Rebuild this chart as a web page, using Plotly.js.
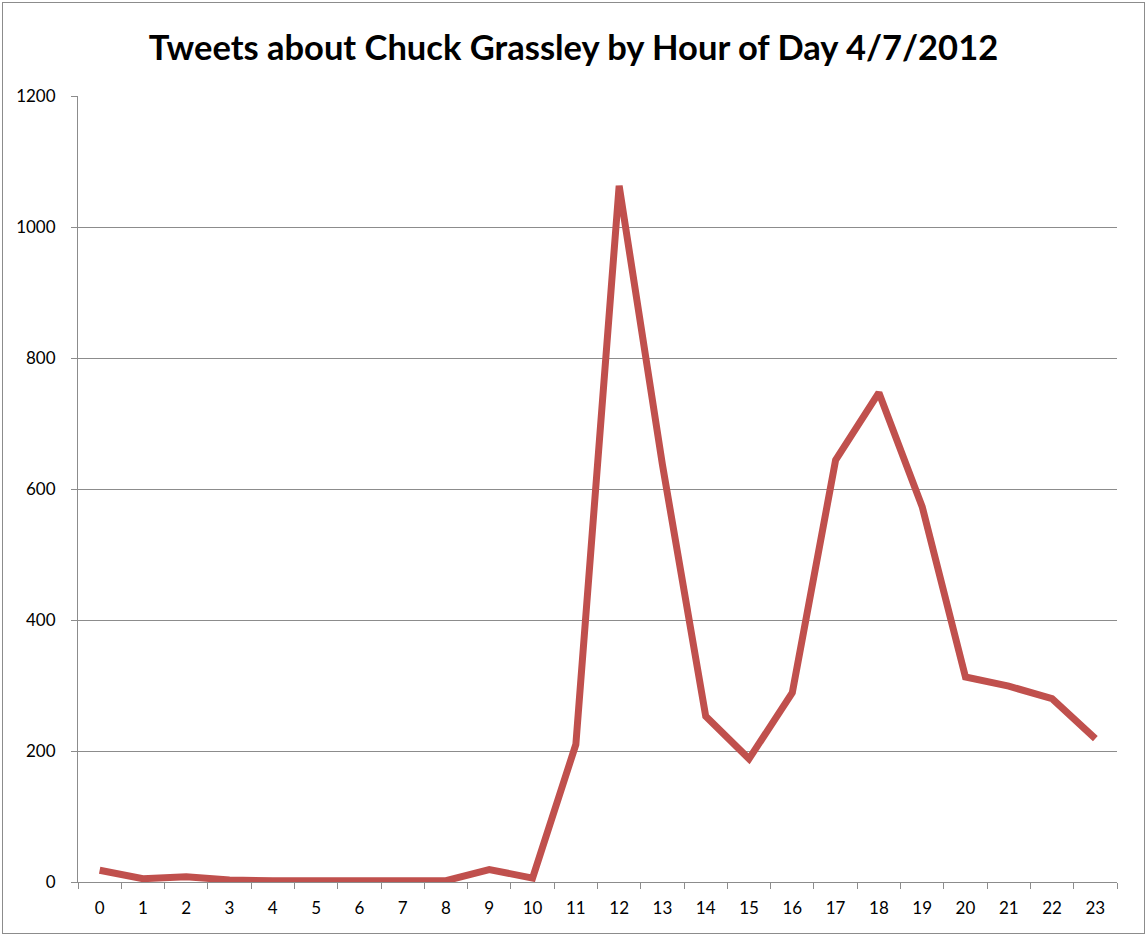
<!DOCTYPE html>
<html>
<head>
<meta charset="utf-8">
<script src="https://cdn.plot.ly/plotly-3.0.1.min.js"></script>
<style>
  html, body { margin: 0; padding: 0; background: #fff; }
  #chart { position: absolute; left: 2px; top: 2px; width: 1141px; height: 930px; border: 1px solid #8c8c8c; }
</style>
</head>
<body>
<div id="chart"></div>
<script>
const hours = ["0","1","2","3","4","5","6","7","8","9","10","11","12","13","14","15","16","17","18","19","20","21","22","23"];
const tweets = [18, 5, 8, 3, 2, 2, 4, 4, 2, 19, 6, 210, 1063, 637, 253, 188, 289, 644, 747, 573, 313, 299, 280, 219];
const yTicks = [0, 200, 400, 600, 800, 1000, 1200];
const chartTitle = "Tweets about Chuck Grassley by Hour of Day 4/7/2012";

const trace = {
  x: hours,
  y: tweets,
  type: "scatter",
  mode: "lines",
  line: { color: "#C0504D", width: 7, shape: "linear" },
  hoverinfo: "x+y"
};

const layout = {
  width: 1141,
  height: 930,
  margin: { l: 75, r: 27, t: 93, b: 51, pad: 0 },
  paper_bgcolor: "#ffffff",
  plot_bgcolor: "#ffffff",
  showlegend: false,
  font: { family: "Lato, 'Open Sans', sans-serif", color: "#000" },
  title: {
    text: "<b>" + chartTitle + "</b>",
    font: { family: "Lato, 'Open Sans', sans-serif", size: 34.5, color: "#000" },
    x: 0.5, xanchor: "center",
    y: 1 - 45 / 930, yanchor: "middle"
  },
  xaxis: {
    type: "category",
    tickson: "boundaries",
    ticks: "outside",
    ticklen: 6,
    tickcolor: "#8c8c8c",
    tickwidth: 1,
    showgrid: false,
    showline: true,
    linecolor: "#8c8c8c",
    linewidth: 1,
    zeroline: false,
    tickfont: { size: 17, color: "#000" },
    ticklabelstandoff: 11,
    range: [-0.5, 23.5],
    fixedrange: true
  },
  yaxis: {
    range: [0, 1200],
    tickvals: yTicks,
    ticktext: yTicks.map(String),
    ticks: "outside",
    ticklen: 6,
    tickcolor: "#8c8c8c",
    showgrid: true,
    gridcolor: "#8c8c8c",
    gridwidth: 1,
    showline: true,
    linecolor: "#8c8c8c",
    linewidth: 1,
    zeroline: false,
    tickfont: { size: 17, color: "#000" },
    ticklabelstandoff: 12,
    fixedrange: true
  }
};

Plotly.newPlot("chart", [trace], layout, { displayModeBar: false, staticPlot: true });
</script>
</body>
</html>
